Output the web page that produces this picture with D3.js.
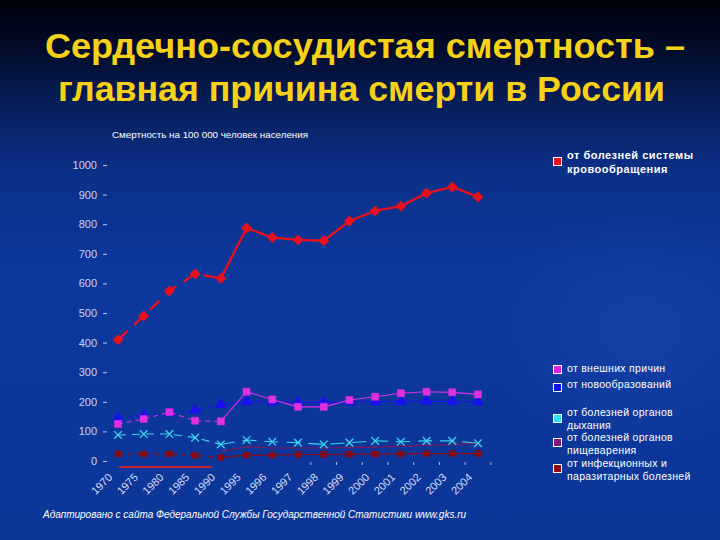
<!DOCTYPE html>
<html><head><meta charset="utf-8">
<script src="https://cdn.jsdelivr.net/npm/d3@7/dist/d3.min.js"></script>
<style>html,body{margin:0;padding:0;background:#0b2f8c;}svg{display:block;}</style>
</head><body>
<script>
const years = ["1970","1975","1980","1985","1990","1995","1996","1997","1998","1999","2000","2001","2002","2003","2004"];
const circulatory = [410,490,575,632,617,787,755,747,744,811,845,861,905,926,892];
const external    = [125,142,165,136,134,234,208,183,183,206,217,229,234,232,225];
const neoplasms   = [144,155,163,172,191,200,200,198,198,200,200,201,202,201,200];
const respiratory = [88,91,91,79,56,71,65,62,56,62,68,65,68,68,60];
const digestive   = [null,null,null,null,33,48,44,44,44,45,47,50,53,55,61];
const infectious  = [24,24,24,19,12,20,20,22,22,23,24,24,25,25,25];
const yTicks = [0,100,200,300,400,500,600,700,800,900,1000];
const titleLines = ["Сердечно-сосудистая смертность –","главная причина смерти в России"];
const yTitle = "Смертность на 100 000 человек населения";
const footnote = "Адаптировано с сайта Федеральной Службы Государственной Статистики www.gks.ru";
const legendItems = [
  {lines:["от болезней системы","кровообращения"], color:"#e8101c", bold:true},
  {lines:["от внешних причин"], color:"#e020e0"},
  {lines:["от новообразований"], color:"#1010e8"},
  {lines:["от болезней органов","дыхания"], color:"#30e0f0"},
  {lines:["от болезней органов","пищеварения"], color:"#801a80"},
  {lines:["от инфекционных и","паразитарных болезней"], color:"#8a0a10"}
];

const W=720,H=540;
const svg=d3.select("body").append("svg").attr("width",W).attr("height",H);
const defs=svg.append("defs");
const g=defs.append("linearGradient").attr("id","bg").attr("x1",0).attr("y1",0).attr("x2",0).attr("y2",1);
[[0,"#000208"],[0.08,"#020a26"],[0.2,"#08205e"],[0.32,"#0b3088"],[0.5,"#0c379c"],[1,"#0c3698"]].forEach(d=>g.append("stop").attr("offset",d[0]).attr("stop-color",d[1]));
const rg=defs.append("radialGradient").attr("id","glow").attr("cx",0.5).attr("cy",0.5).attr("r",0.5);
rg.append("stop").attr("offset",0).attr("stop-color","#2a55c0").attr("stop-opacity",0.3);
rg.append("stop").attr("offset",1).attr("stop-color","#2a55c0").attr("stop-opacity",0);
svg.append("rect").attr("width",W).attr("height",H).attr("fill","url(#bg)");
svg.append("ellipse").attr("cx",640).attr("cy",330).attr("rx",160).attr("ry",120).attr("fill","url(#glow)");

// title
const titleLen=[640,607];
svg.selectAll("text.title").data(titleLines).join("text").attr("class","title")
  .attr("x",(d,i)=>i===0?45:58).attr("y",(d,i)=>58+i*43)
  .attr("textLength",(d,i)=>titleLen[i]).attr("lengthAdjust","spacingAndGlyphs")
  .attr("font-family","Liberation Sans, Arial, sans-serif").attr("font-weight","bold")
  .attr("font-size",35).attr("fill","#f7d117").text(d=>d);

const x=d3.scalePoint().domain(years).range([118,478]);
const y=d3.scaleLinear().domain([0,1000]).range([461,165]);

svg.append("text").attr("x",112).attr("y",138).attr("font-family","Liberation Sans, Arial, sans-serif")
  .attr("font-size",9.8).attr("fill","#ffffff").text(yTitle);

// y axis
const ya=svg.append("g").attr("transform","translate(108,0)")
  .call(d3.axisLeft(y).tickValues(yTicks).tickSize(4).tickPadding(7).tickFormat(d3.format("d")));
ya.select(".domain").remove();
ya.selectAll(".tick line").attr("stroke","#b8c6ee").attr("transform","translate(-1,0)");
ya.selectAll("text").attr("fill","#c8d4f2").attr("font-family","Liberation Sans, Arial, sans-serif").attr("font-size",11);

// x axis labels
const step=x.step();
const xa=svg.append("g");
xa.selectAll("line").data(years.slice(7)).join("line")
  .attr("x1",d=>x(d)+step/2).attr("x2",d=>x(d)+step/2).attr("y1",462).attr("y2",465)
  .attr("stroke","#b8c6ee").attr("stroke-width",1);
xa.selectAll("text").data(years).join("text")
  .attr("transform",d=>`translate(${x(d)-5},${478}) rotate(-45)`)
  .attr("text-anchor","end").attr("font-family","Liberation Sans, Arial, sans-serif")
  .attr("font-size",11).attr("fill","#d4ddf6").text(d=>d);

// red underline for the 5-year interval period
svg.append("line").attr("x1",x("1970")+1).attr("x2",x("1990")-9).attr("y1",467).attr("y2",467)
  .attr("stroke","#c8202c").attr("stroke-width",2);

const splitIdx=years.indexOf("1990");
function drawSeries(vals,color,width,marker,size,dashEarly,dashLate,rot){
  const pts=years.map((yr,i)=>({yr,v:vals[i],i})).filter(d=>d.v!=null);
  const line=d3.line().x(d=>x(d.yr)).y(d=>y(d.v));
  const early=pts.filter(d=>d.i<=splitIdx), late=pts.filter(d=>d.i>=splitIdx);
  if(early.length>1) svg.append("path").attr("d",line(early)).attr("fill","none").attr("stroke",color)
    .attr("stroke-width",width).attr("stroke-dasharray",dashEarly);
  if(late.length>1) svg.append("path").attr("d",line(late)).attr("fill","none").attr("stroke",color)
    .attr("stroke-width",width).attr("stroke-dasharray",dashLate||null);
  if(!marker) return;
  const sym = marker==="x" ? d3.symbolX : marker;
  svg.append("g").selectAll("path").data(pts).join("path")
    .attr("transform",d=>`translate(${x(d.yr)},${y(d.v)}) rotate(${rot||0})`)
    .attr("d",d3.symbol().type(sym).size(size))
    .attr("fill",marker==="x"?"none":color).attr("stroke",color).attr("stroke-width",marker==="x"?1.3:0.5);
}
drawSeries(infectious,"#8a0a10",1.2,d3.symbolSquare,36,"5,4",null);
drawSeries(digestive,"#7a1a5a",1.2,null,0,"5,4",null);
drawSeries(respiratory,"#3ad8ee",1.1,"x",40,"8,6","14,8");
drawSeries(neoplasms,"#1a10ee",1.1,d3.symbolTriangle,55,"5,4",null);
drawSeries(external,"#e030e0",1.1,d3.symbolSquare,50,"5,4",null);
drawSeries(circulatory,"#e8101c",2.4,d3.symbolSquare,55,"13,9",null,45);

// legend
const legSq=[157,365,383,414,438,464];
const legBase=[[159,173],[372],[388],[416,429],[441,454],[467,480]];
const lg=svg.append("g");
legendItems.forEach((it,k)=>{
  lg.append("rect").attr("x",553.5).attr("y",legSq[k]+0.5).attr("width",8).attr("height",8)
    .attr("fill",it.color).attr("stroke","#ffffff").attr("stroke-width",1);
  it.lines.forEach((ln,j)=>{
    lg.append("text").attr("x",567).attr("y",legBase[k][j]).attr("font-family","Liberation Sans, Arial, sans-serif")
      .attr("font-size",it.bold?11:10.5).attr("letter-spacing",it.bold?0.5:0.3).attr("font-weight",it.bold?"bold":"normal").attr("fill","#ffffff").text(ln);
  });
});

svg.append("text").attr("x",43).attr("y",518).attr("font-family","Liberation Sans, Arial, sans-serif")
  .attr("font-style","italic").attr("font-size",10).attr("fill","#ffffff").text(footnote);
</script>
</body></html>
